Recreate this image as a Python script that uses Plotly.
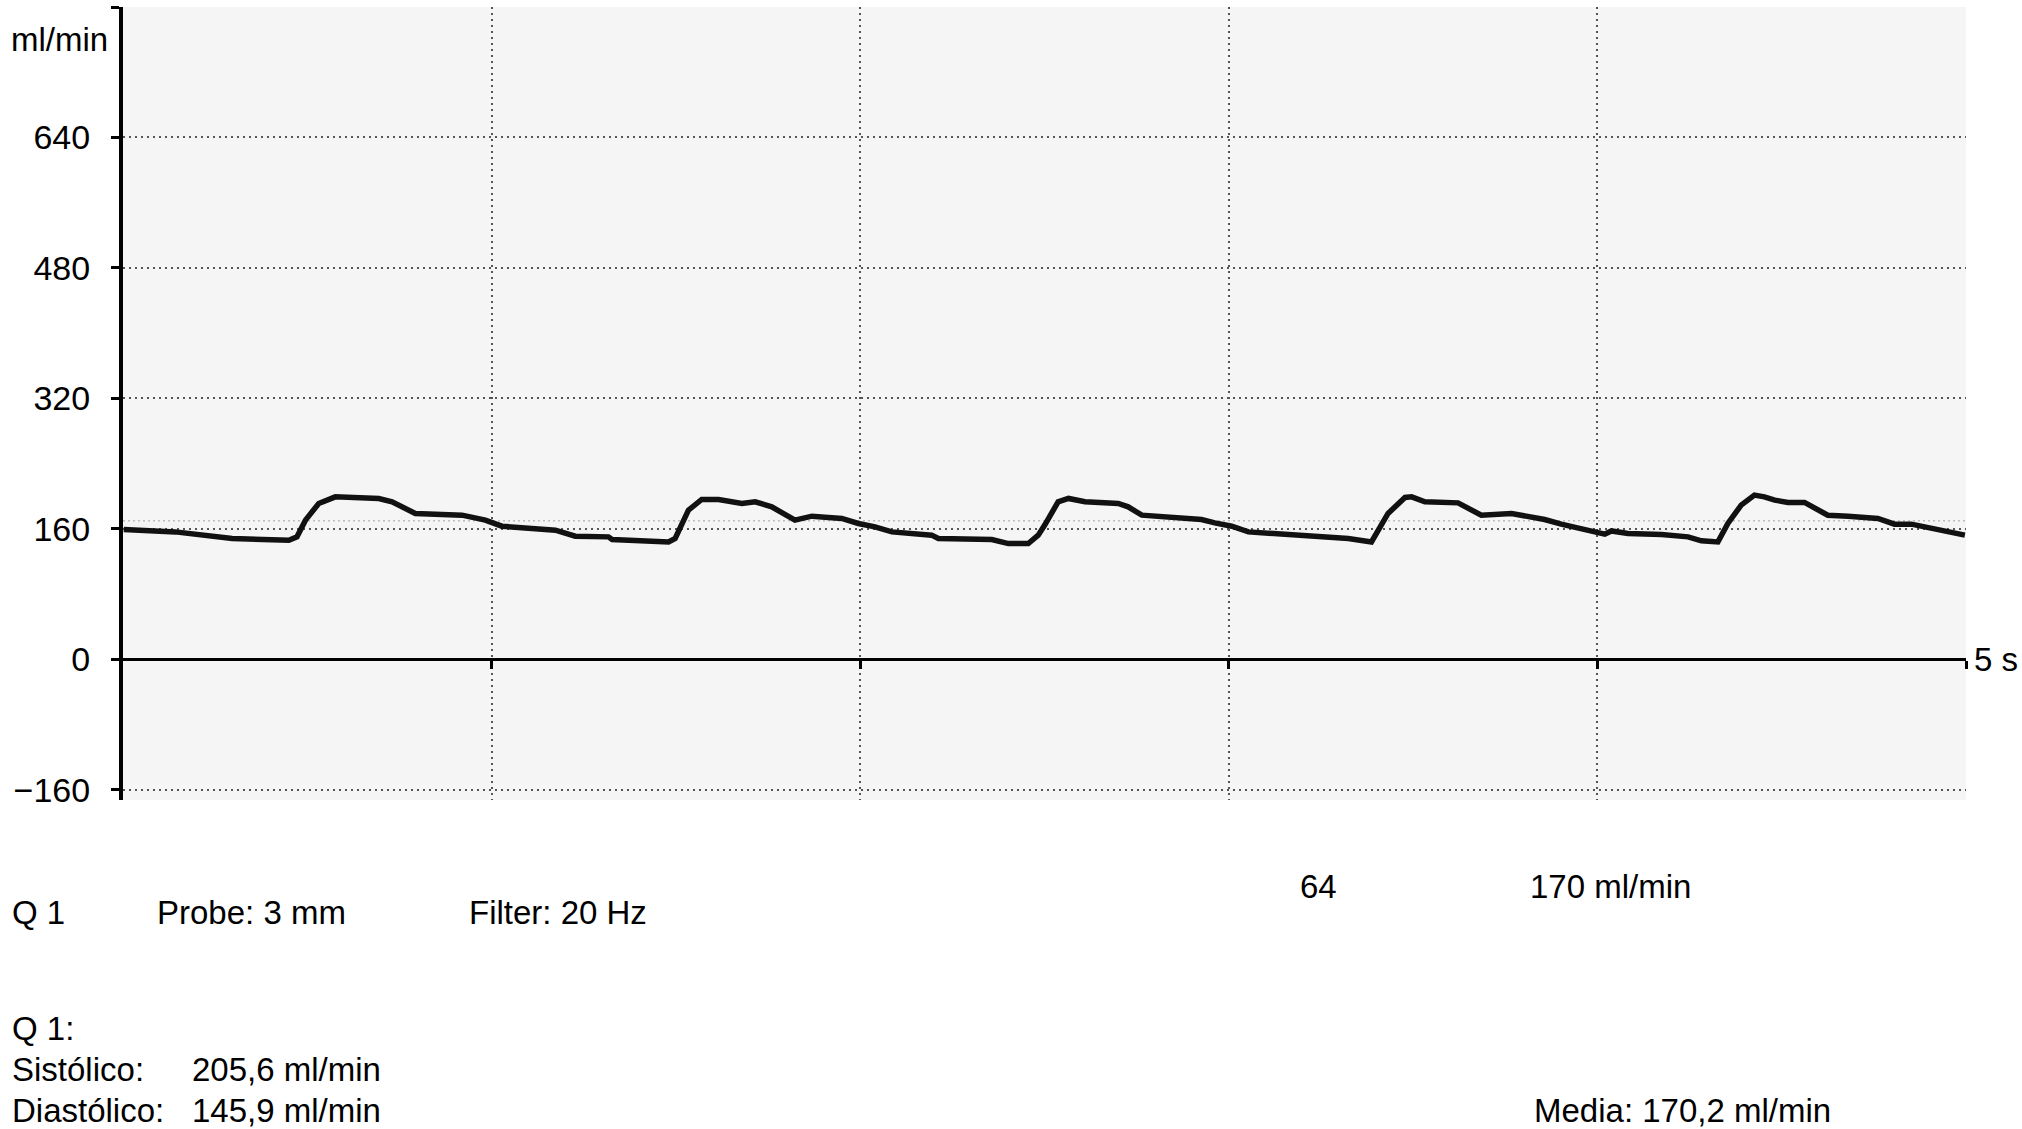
import plotly.graph_objects as go

# ---- data ----
time_s = [0.002, 0.142, 0.296, 0.450, 0.472, 0.495, 0.531, 0.576, 0.694, 0.730,
          0.793, 0.920, 0.983, 1.028, 1.173, 1.227, 1.317, 1.327, 1.480, 1.498,
          1.534, 1.570, 1.616, 1.679, 1.715, 1.760, 1.823, 1.869, 1.950, 1.995,
          2.040, 2.086, 2.194, 2.212, 2.357, 2.402, 2.456, 2.483, 2.501, 2.537,
          2.565, 2.610, 2.700, 2.727, 2.764, 2.926, 2.962, 3.008, 3.053, 3.324,
          3.387, 3.432, 3.478, 3.496, 3.532, 3.622, 3.685, 3.749, 3.767, 3.857,
          3.902, 3.993, 4.020, 4.038, 4.083, 4.174, 4.246, 4.282, 4.327, 4.354,
          4.390, 4.426, 4.453, 4.481, 4.517, 4.562, 4.625, 4.680, 4.761, 4.806,
          4.852, 4.997]
flow_ml_min = [159.2, 156.3, 148.2, 146.1, 150.2, 170.7, 191.2, 199.3, 197.3, 193.2,
               178.9, 176.8, 170.7, 163.3, 158.4, 151.0, 150.2, 147.0, 144.0, 148.2,
               183.0, 196.1, 196.1, 191.2, 193.2, 187.0, 170.7, 175.6, 172.8, 166.6,
               162.5, 156.3, 152.3, 148.2, 147.0, 142.0, 142.0, 152.3, 165.0, 193.2,
               197.3, 193.2, 191.2, 187.0, 176.8, 171.5, 167.4, 163.3, 156.3, 148.2,
               144.0, 178.9, 198.5, 199.3, 193.2, 191.9, 176.8, 178.0, 178.9, 171.5,
               165.8, 156.3, 153.5, 157.5, 154.3, 153.1, 150.2, 145.3, 144.0, 166.6,
               189.1, 201.4, 199.3, 195.2, 192.4, 192.4, 176.8, 175.6, 172.8, 165.8,
               165.8, 152.3]

mean_flow = 170
y_tick_vals = [-160, 0, 160, 320, 480, 640, 800]
y_tick_text = ["\u2212160", "0", "160", "320", "480", "640", ""]
x_tick_vals = [1, 2, 3, 4, 5]
y_range = [-172.5, 800]
x_range = [0, 5]

FONT = "Liberation Sans, Arial, sans-serif"
FS = 33

fig = go.Figure()
fig.add_trace(go.Scatter(x=time_s, y=flow_ml_min, mode="lines",
                         line=dict(color="#111111", width=5.5),
                         showlegend=False, hoverinfo="skip"))

# faint mean level line
fig.add_hline(y=mean_flow, line=dict(color="#bdbdbd", width=1.5, dash="2px,3px"), layer="below")

W, H = 2022, 1129
L, R, T, B = 123, 56, 7, 329
pw = W - L - R
ph = H - T - B


def px(X):
    return (X - L) / pw


def py(Y):
    return (H - B - Y) / ph


zero_pos = (0 - y_range[0]) / (y_range[1] - y_range[0])

fig.update_layout(
    width=W, height=H,
    margin=dict(l=L, r=R, t=T, b=B),
    paper_bgcolor="white",
    plot_bgcolor="#f5f5f5",
    font=dict(family=FONT, size=FS, color="black"),
    showlegend=False,
    xaxis=dict(range=x_range, tickvals=x_tick_vals, showticklabels=False,
               showgrid=True, gridcolor="#555555", gridwidth=2, griddash="2px,4px",
               zeroline=False, showline=True, linecolor="black", linewidth=3,
               ticks="outside", ticklen=8, tickwidth=3, tickcolor="black",
               anchor="free", position=zero_pos, fixedrange=True),
    yaxis=dict(range=y_range, tickvals=y_tick_vals, ticktext=y_tick_text,
               showgrid=True, gridcolor="#555555", gridwidth=2, griddash="2px,4px",
               zeroline=False, showline=True, linecolor="black", linewidth=4,
               ticks="outside", ticklen=8, tickwidth=3, tickcolor="black",
               ticklabelstandoff=14, tickfont=dict(size=FS + 1), fixedrange=True),
)

annotations = [
    ("ml/min", 110, 39, "right"),
    ("Q 1", 10, 912, "left"),
    ("Probe: 3 mm", 155, 912, "left"),
    ("Filter: 20 Hz", 467, 912, "left"),
    ("64", 1298, 886, "left"),
    ("170 ml/min", 1528, 886, "left"),
    ("Q 1:", 10, 1028, "left"),
    ("Sistólico:", 10, 1069, "left"),
    ("205,6 ml/min", 190, 1069, "left"),
    ("Diastólico:", 10, 1110, "left"),
    ("145,9 ml/min", 190, 1110, "left"),
    ("Media: 170,2 ml/min", 1532, 1110, "left"),
]
for text, X, Y, anchor in annotations:
    fig.add_annotation(text=text, x=px(X), y=py(Y), xref="paper", yref="paper",
                       xanchor=anchor, yanchor="middle", showarrow=False,
                       font=dict(family=FONT, size=FS, color="black"))

fig.add_annotation(text="5 s", x=px(2020), y=0, xref="paper", yref="y",
                   xanchor="right", yanchor="middle", showarrow=False,
                   font=dict(family=FONT, size=FS, color="black"))

fig.write_html("out.html",
               config={"displayModeBar": False},
               post_script="document.body.style.margin='0px';document.body.style.padding='0px';")
